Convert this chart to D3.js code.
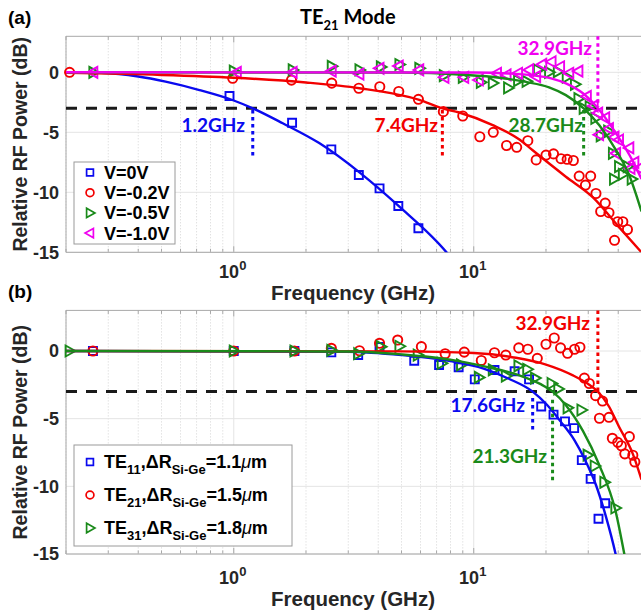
<!DOCTYPE html>
<html>
<head>
<meta charset="utf-8">
<script src="https://cdn.jsdelivr.net/npm/d3@7"></script>
<style>
  body { margin: 0; background: #fff; }
  svg text { font-family: "Liberation Sans", Arial, sans-serif; font-weight: bold; }
  .ann { font-family: Lato, "Open Sans", sans-serif; }
</style>
</head>
<body>
<script>
// ---- data (frequency GHz, relative power dB) ----
var xTicks = [1, 10];
var xTickExp = ['0', '1'];
var yTicks = [0, -5, -10, -15];

// panel (a): TE21 mode at several bias voltages
var aV0Pts = [[0.96,-1.97],[1.75,-4.2],[2.55,-6.42],[3.32,-8.56],[4.05,-9.67],[4.85,-11.14],[5.88,-13.0]];
var aV02Pts = [[0.207,0],[0.99,-0.5],[1.74,-0.65],[2.56,-0.9],[3.32,-1.33],[4.06,-1.2],[4.87,-1.6],[5.88,-2.25],
  [7.47,-3.28],[9.0,-3.64],[10.6,-5.37],[12.06,-5.0],[13.7,-6.1],[15.1,-6.25],[16.8,-5.7],[18.2,-7.3],[20.0,-6.9],
  [21.5,-6.8],[23.1,-7.2],[24.5,-7.25],[26.0,-7.35],[27.5,-8.65],[29.2,-9.4],[30.7,-8.65],[32.3,-10.1],[33.8,-11.6],
  [35.3,-10.9],[36.6,-11.7],[38.6,-14.0],[39.8,-12.45],[41.8,-12.45],[43.7,-13.1]];
var aV05Pts = [[0.26,0],[1.0,0.1],[1.76,0.2],[2.56,0.5],[3.34,0.2],[4.1,0.45],[4.9,0.65],[5.93,0.33],[7.5,-0.28],
  [9.0,-0.42],[10.7,-0.83],[12.0,-0.9],[13.9,-1.3],[15.3,-0.7],[16.6,-0.75],[18.5,0.2],[20.6,0],[22.4,0.05],
  [24.4,-0.4],[26.4,-1.0],[27.3,-2.2],[28.7,-3.0],[30.4,-2.87],[32.1,-3.83],[33.8,-5.3],[36.3,-4.9],[38.0,-6.75],
  [38.4,-8.9],[40.3,-7.86],[41.8,-8.5],[43.8,-7.86],[45.5,-8.9]];
var aV10Pts = [[0.26,0],[1.03,0],[1.76,0],[2.56,0.1],[3.34,-0.15],[4.05,0.33],[4.87,0.52],[5.93,0.2],[7.55,-0.42],
  [9.13,-0.42],[10.5,-0.64],[12.5,-0.08],[13.7,-0.22],[15.3,-0.08],[17.0,0.2],[18.2,-0.36],[19.3,0.66],[21.1,0.88],
  [22.9,0.46],[25.0,-0.08],[27.3,0.1],[29.6,-2.0],[31.6,-2.8],[33.0,-3.4],[35.3,-3.8],[33.3,-5.2],[36.6,-4.7],
  [38.6,-5.4],[39.2,-6.75],[40.3,-5.64],[44.5,-6.3],[45.0,-8.0],[46.7,-7.5],[48.8,-8.0]];

var aV0Fit = [[0.2,0],[0.28,-0.05],[0.4,-0.35],[0.52,-0.78],[0.72,-1.48],[1.0,-2.35],[1.2,-3.0],[1.6,-4.25],
  [2.27,-5.9],[3.37,-8.4],[4.9,-11.2],[7.7,-15],[8.6,-16.2]];
var aV02Fit = [[0.2,-0.05],[0.5,-0.22],[1,-0.45],[2,-0.85],[3.34,-1.33],[5.93,-2.3],[7.4,-3.0],[8.7,-3.35],
  [12,-4.4],[15.5,-5.6],[17.6,-6.5],[24.2,-8.7],[31.3,-10.4],[40.3,-12.9],[50,-15]];
var aV05Fit = [[0.2,0],[5,-0.02],[9,-0.2],[12.8,-0.45],[16.5,-0.8],[20.6,-1.25],[24.2,-1.9],[28.7,-3.0],
  [33.3,-4.4],[39.2,-6.5],[44.5,-8.6],[50,-11.6]];
var aV10Fit = [[0.2,0],[10,-0.02],[14,-0.1],[17.6,-0.25],[21,-0.5],[24.2,-0.92],[28.5,-1.75],[32.9,-3.0],
  [39.2,-5.1],[46,-7.4],[50,-8.9]];

var aLegend = ['V=0V', 'V=-0.2V', 'V=-0.5V', 'V=-1.0V'];
var aCutoffs = [1.2, 7.4, 28.7, 32.9];

// panel (b): three modes
var bTE11Pts = [[0.259,0],[1.0,0],[1.79,0],[2.55,-0.1],[3.3,-0.3],[4.05,0.3],[5.65,-0.72],[7.17,-1.03],[8.65,-1.2],
  [10.1,-2.1],[12.2,-1.4],[14.8,-1.5],[17.0,-2.1],[19.1,-4.1],[21.5,-4.7],[24.0,-5.2],[26.2,-5.7],[28.2,-8.06],
  [30.7,-9.45],[33.1,-12.4],[35.3,-11.25]];
var bTE21Pts = [[0.259,0],[1.0,0],[1.79,0],[2.55,0.2],[3.34,0.02],[4.05,0.57],[4.82,0.81],[6.05,0.32],[7.6,-0.2],
  [9.13,-0.08],[10.75,-0.7],[12.2,-0.13],[13.6,-0.3],[15.4,0.23],[16.8,0.13],[18.4,-0.54],[20.0,0.5],[21.65,0.96],
  [23.0,0.23],[24.6,-0.17],[26.3,0.13],[27.7,0.28],[28.9,-2.0],[30.3,-2.4],[32.2,-3.3],[34.4,-3.7],[33.4,-4.97],
  [36.6,-4.9],[37.8,-6.45],[39.8,-6.75],[41.2,-7.0],[44.5,-6.33],[42.6,-7.6],[46.0,-7.7],[46.9,-8.2]];
var bTE31Pts = [[0.207,0],[1.0,0],[1.79,0],[2.55,0.05],[3.3,-0.2],[4.1,0.32],[4.9,0.35],[5.84,-0.3],[7.35,-0.91],
  [8.85,-1.03],[10.5,-1.95],[12.0,-1.4],[13.6,-1.85],[15.35,-1.1],[16.7,-1.35],[18.0,-2.0],[21.1,-2.4],[22.5,-2.8],
  [24.6,-4.2],[28.1,-4.36],[29.8,-7.69],[31.9,-8.5],[35.0,-9.7],[38.9,-11.6]];

var bTE11Fit = [[0.2,0],[3,-0.05],[5,-0.3],[8,-0.75],[11,-1.3],[14,-2.05],[17.6,-3.0],[20,-3.9],[23,-5.2],
  [26.3,-6.6],[29,-8.0],[32.3,-9.9],[35.5,-12.2],[39,-15],[41,-16.8]];
var bTE21Fit = [[0.2,0],[5,-0.03],[10,-0.15],[15,-0.5],[20,-1.0],[25.9,-1.8],[30.3,-2.5],[32.9,-3.0],
  [36.6,-4.1],[40.3,-5.6],[46,-7.6],[50,-9.5]];
var bTE31Fit = [[0.2,0],[3,-0.04],[5,-0.25],[8.2,-0.67],[11.2,-1.16],[15.5,-1.8],[19,-2.45],[21.3,-3.0],
  [24.2,-4.0],[28.5,-5.9],[33.3,-8.4],[39.2,-12.0],[42.4,-15],[44,-16.5]];

var bModes = ['11', '21', '31'];
var bDeltaR = ['1.1', '1.5', '1.8'];
var bCutoffs = [17.6, 32.9, 21.3];

// ---- drawing ----
var width = 641, height = 614;
var blue = '#0a0aef', red = '#f20000', green = '#1a8a1a', magenta = '#f000f0';
var axisGray = '#a8a8a8', textGray = '#262626';

var svg = d3.select('body').append('svg')
    .attr('width', width)
    .attr('height', height);

var x = d3.scaleLog().domain([0.2, 50]).range([66, 641.5]);

var shapes = {
  square: 'M-4,-4H4V4H-4Z',
  circle: 'M-4.6,0a4.6,4.6 0 1,0 9.2,0a4.6,4.6 0 1,0 -9.2,0',
  triR: 'M-4,-5.5L5.8,0L-4,5.5Z',
  triL: 'M4,-5.5L-5.8,0L4,5.5Z'
};

function panel(id, y, opt) {
  var g = svg.append('g');
  var x0 = x.range()[0], x1 = x.range()[1];
  var top = y.range()[1], bottom = y.range()[0];

  g.append('clipPath').attr('id', 'clip' + id)
    .append('rect').attr('x', x0).attr('y', top).attr('width', x1 - x0).attr('height', bottom - top);

  // grid
  x.ticks().forEach(function(t) {
    var major = xTicks.indexOf(t) >= 0;
    g.append('line')
      .attr('x1', x(t)).attr('x2', x(t)).attr('y1', top).attr('y2', bottom)
      .attr('stroke', major ? '#e4e4e4' : '#d4d4d4')
      .attr('stroke-width', 1)
      .attr('stroke-dasharray', major ? null : '1,2');
    // inward tick marks top and bottom
    g.append('line').attr('x1', x(t)).attr('x2', x(t)).attr('y1', top).attr('y2', top + (major ? 6 : 3.5))
      .attr('stroke', axisGray);
    g.append('line').attr('x1', x(t)).attr('x2', x(t)).attr('y1', bottom).attr('y2', bottom - (major ? 6 : 3.5))
      .attr('stroke', axisGray);
  });
  yTicks.forEach(function(t) {
    g.append('line')
      .attr('x1', x0).attr('x2', x1).attr('y1', y(t)).attr('y2', y(t))
      .attr('stroke', '#e4e4e4');
  });

  // axes box (right side falls at the picture edge)
  g.append('path')
    .attr('d', 'M' + x1 + ',' + top + 'H' + x0 + 'V' + bottom + 'H' + x1)
    .attr('fill', 'none').attr('stroke', axisGray).attr('stroke-width', 1);

  // y tick labels
  g.selectAll('.ytl').data(yTicks).enter().append('text')
    .attr('x', 59).attr('y', function(d) { return y(d); })
    .attr('dy', '0.36em')
    .attr('text-anchor', 'end')
    .attr('fill', textGray)
    .style('font-size', '18px')
    .text(function(d) { return d; });

  // x tick labels 10^n
  xTicks.forEach(function(t, i) {
    var tx = g.append('text')
      .attr('x', x(t) - 1).attr('y', bottom + opt.tickOff)
      .attr('text-anchor', 'middle')
      .attr('fill', textGray)
      .style('font-size', '18px');
    tx.append('tspan').text('10');
    tx.append('tspan').attr('dy', -8).style('font-size', '13px').text(xTickExp[i]);
  });

  // axis labels
  g.append('text')
    .attr('x', 353).attr('y', opt.xLabelY)
    .attr('text-anchor', 'middle')
    .attr('fill', textGray)
    .style('font-size', '20.5px')
    .text('Frequency (GHz)');
  g.append('text')
    .attr('transform', 'translate(27,' + ((top + bottom) / 2) + ') rotate(-90)')
    .attr('text-anchor', 'middle')
    .attr('fill', textGray)
    .style('font-size', '19.5px')
    .text('Relative RF Power (dB)');

  // -3 dB line
  g.append('line')
    .attr('x1', x0).attr('x2', x1).attr('y1', y(-3)).attr('y2', y(-3))
    .attr('stroke', '#1a1a1a').attr('stroke-width', 3)
    .attr('stroke-dasharray', '11,9');

  // markers
  opt.series.forEach(function(s) {
    g.selectAll(null).data(s.pts).enter().append('path')
      .attr('d', shapes[s.shape])
      .attr('transform', function(d) { return 'translate(' + x(d[0]) + ',' + y(d[1]) + ')'; })
      .attr('fill', 'none').attr('stroke', s.color).attr('stroke-width', 1.9);
  });

  // fitted curves
  var line = d3.line()
    .x(function(d) { return x(d[0]); })
    .y(function(d) { return y(d[1]); })
    .curve(d3.curveMonotoneX);
  opt.series.forEach(function(s) {
    g.append('path')
      .datum(s.fit)
      .attr('clip-path', 'url(#clip' + id + ')')
      .attr('d', line)
      .attr('fill', 'none').attr('stroke', s.color).attr('stroke-width', 2.4);
  });

  // cutoff annotations
  opt.notes.forEach(function(n) {
    g.append('line')
      .attr('x1', x(n.f)).attr('x2', x(n.f)).attr('y1', y(n.from)).attr('y2', y(n.to))
      .attr('stroke', n.color).attr('stroke-width', 3).attr('stroke-dasharray', '3.5,3.5');
    g.append('text')
      .attr('class', 'ann')
      .attr('x', n.tx).attr('y', n.ty)
      .attr('text-anchor', 'end')
      .attr('fill', n.color)
      .style('font-size', '19px')
      .text(n.f.toFixed(1) + 'GHz');
  });

  // legend box
  var lg = g.append('g');
  lg.append('rect')
    .attr('x', 74).attr('y', opt.legend.y)
    .attr('width', opt.legend.w).attr('height', opt.legend.h)
    .attr('fill', '#fff').attr('stroke', '#9a9a9a').attr('stroke-width', 1);
  opt.series.forEach(function(s, i) {
    var ly = opt.legend.y + opt.legend.first + i * opt.legend.step;
    lg.append('path')
      .attr('d', shapes[s.shape])
      .attr('transform', 'translate(90,' + ly + ') scale(0.85)')
      .attr('fill', 'none').attr('stroke', s.color).attr('stroke-width', 2);
    var t = lg.append('text')
      .attr('x', 104).attr('y', ly).attr('dy', '0.36em')
      .attr('fill', '#000')
      .style('font-size', '18px');
    opt.legendText(t, i);
  });
  return g;
}

var ya = d3.scaleLinear().domain([-15, 3]).range([252.3, 36.3]);
var yb = d3.scaleLinear().domain([-15, 3]).range([554, 310.4]);

panel('a', ya, {
  tickOff: 26, xLabelY: 300,
  series: [
    { pts: aV0Pts, fit: aV0Fit, shape: 'square', color: blue },
    { pts: aV02Pts, fit: aV02Fit, shape: 'circle', color: red },
    { pts: aV05Pts, fit: aV05Fit, shape: 'triR', color: green },
    { pts: aV10Pts, fit: aV10Fit, shape: 'triL', color: magenta }
  ],
  notes: [
    { f: aCutoffs[0], from: -3.15, to: -7.15, color: blue, tx: 245, ty: 132 },
    { f: aCutoffs[1], from: -3.15, to: -7.15, color: red, tx: 438, ty: 132 },
    { f: aCutoffs[2], from: -3.15, to: -7.15, color: green, tx: 583, ty: 132 },
    { f: aCutoffs[3], from: 3, to: -2.9, color: magenta, tx: 592, ty: 55 }
  ],
  legend: { y: 162, w: 101, h: 82, first: 10.5, step: 20.2 },
  legendText: function(t, i) { t.text(aLegend[i]); }
});

panel('b', yb, {
  tickOff: 30, xLabelY: 606,
  series: [
    { pts: bTE11Pts, fit: bTE11Fit, shape: 'square', color: blue },
    { pts: bTE21Pts, fit: bTE21Fit, shape: 'circle', color: red },
    { pts: bTE31Pts, fit: bTE31Fit, shape: 'triR', color: green }
  ],
  notes: [
    { f: bCutoffs[1], from: 3, to: -3, color: red, tx: 590, ty: 330 },
    { f: bCutoffs[0], from: -3.47, to: -5.85, color: blue, tx: 525, ty: 412 },
    { f: bCutoffs[2], from: -3.6, to: -9.7, color: green, tx: 547, ty: 463 }
  ],
  legend: { y: 445, w: 218, h: 101, first: 17, step: 33 },
  legendText: function(t, i) {
    t.append('tspan').text('TE');
    t.append('tspan').attr('dy', 6).style('font-size', '13px').text(bModes[i]);
    t.append('tspan').attr('dy', -6).text(',\u0394R');
    t.append('tspan').attr('dy', 6).style('font-size', '13px').text('Si-Ge');
    t.append('tspan').attr('dy', -6).text('=' + bDeltaR[i]);
    t.append('tspan').style('font-style', 'italic').style('font-weight', 'normal').text('\u03bc');
    t.append('tspan').text('m');
  }
});

// panel tags and title
svg.append('text').attr('x', 8).attr('y', 24).style('font-size', '19px').text('(a)');
svg.append('text').attr('x', 8).attr('y', 298).style('font-size', '19px').text('(b)');
var title = svg.append('text')
    .attr('class', 'ann')
    .attr('x', 300).attr('y', 24)
    .style('font-size', '20px');
title.append('tspan').text('TE');
title.append('tspan').attr('dy', 6).style('font-size', '13px').text('21');
title.append('tspan').attr('dy', -6).text(' Mode');
</script>
</body>
</html>
